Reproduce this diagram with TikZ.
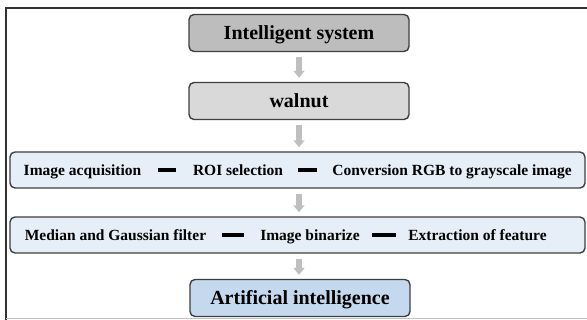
\documentclass[tikz,border=0pt]{standalone}
\usepackage{fontspec}
\setmainfont{Liberation Serif}
\usetikzlibrary{arrows.meta}
\definecolor{isgray}{HTML}{BDBDBD}
\definecolor{wngray}{HTML}{D9D9D9}
\definecolor{rowblue}{HTML}{E6EEF7}
\definecolor{aiblue}{HTML}{C5D9EE}
\definecolor{edge}{HTML}{3F3F3F}
\definecolor{arrowgray}{HTML}{BFBFBF}
\tikzset{
  framepen/.style={draw=black!80, line width=1.8pt},
  box/.style={draw=edge, line width=1.4pt, rounded corners=5pt, inner sep=0pt},
  bigbox/.style={box, minimum width=220pt, minimum height=37pt, text height=13.5pt, text depth=0.5pt, font=\bfseries\fontsize{20}{20}\selectfont},
  rowbox/.style={box, fill=rowblue, minimum width=575pt, minimum height=36pt},
  item/.style={inner sep=0pt, anchor=base, font=\bfseries\fontsize{15.5}{16}\selectfont},
  bar/.style={draw=black, line width=4pt},
  flow/.style={draw=arrowgray, line width=5.5pt, -{Triangle[width=11pt,length=7pt]}, shorten <=5pt, shorten >=4pt}
}
\begin{document}
\begin{tikzpicture}[x=1pt,y=-1pt]
\useasboundingbox (0,0) rectangle (587,320);
\draw[framepen] (6,320) -- (6,8) -- (587,8);
\draw[black!25, line width=1pt] (6,319) -- (587,319);

\node[bigbox, fill=isgray] (is) at (299,33) {Intelligent system};
\node[bigbox, fill=wngray] (wn) at (299,101) {walnut};
\node[rowbox] (r1) at (297.5,170) {};
\node[rowbox] (r2) at (297.5,235) {};
\node[bigbox, fill=aiblue] (ai) at (300,298) {Artificial intelligence};

\node[item] (ia) at (82.5,175.3) {Image acquisition};
\node[item] (roi) at (238,175.3) {ROI selection};
\node[item] (conv) at (452,175.3) {Conversion RGB to grayscale image};
\coordinate (r1y) at (0,170);
\draw[bar, shorten <=17pt, shorten >=17pt] (ia.east |- r1y) -- (roi.west |- r1y);
\draw[bar, shorten <=15pt, shorten >=15pt] (roi.east |- r1y) -- (conv.west |- r1y);

\node[item] (mg) at (115.5,240.3) {Median and Gaussian filter};
\node[item] (bin) at (310,240.3) {Image binarize};
\node[item] (ext) at (477.5,240.3) {Extraction of feature};
\coordinate (r2y) at (0,235);
\draw[bar, shorten <=16pt, shorten >=16pt] (mg.east |- r2y) -- (bin.west |- r2y);
\draw[bar, shorten <=12pt, shorten >=12pt] (bin.east |- r2y) -- (ext.west |- r2y);

\draw[flow] (is.south) -- (wn.north);
\draw[flow] (wn.south) -- (r1.north -| wn.south);
\draw[flow] (r1.south -| wn.south) -- (r2.north -| wn.south);
\draw[flow] (r2.south -| wn.south) -- (ai.north -| wn.south);
\end{tikzpicture}
\end{document}
